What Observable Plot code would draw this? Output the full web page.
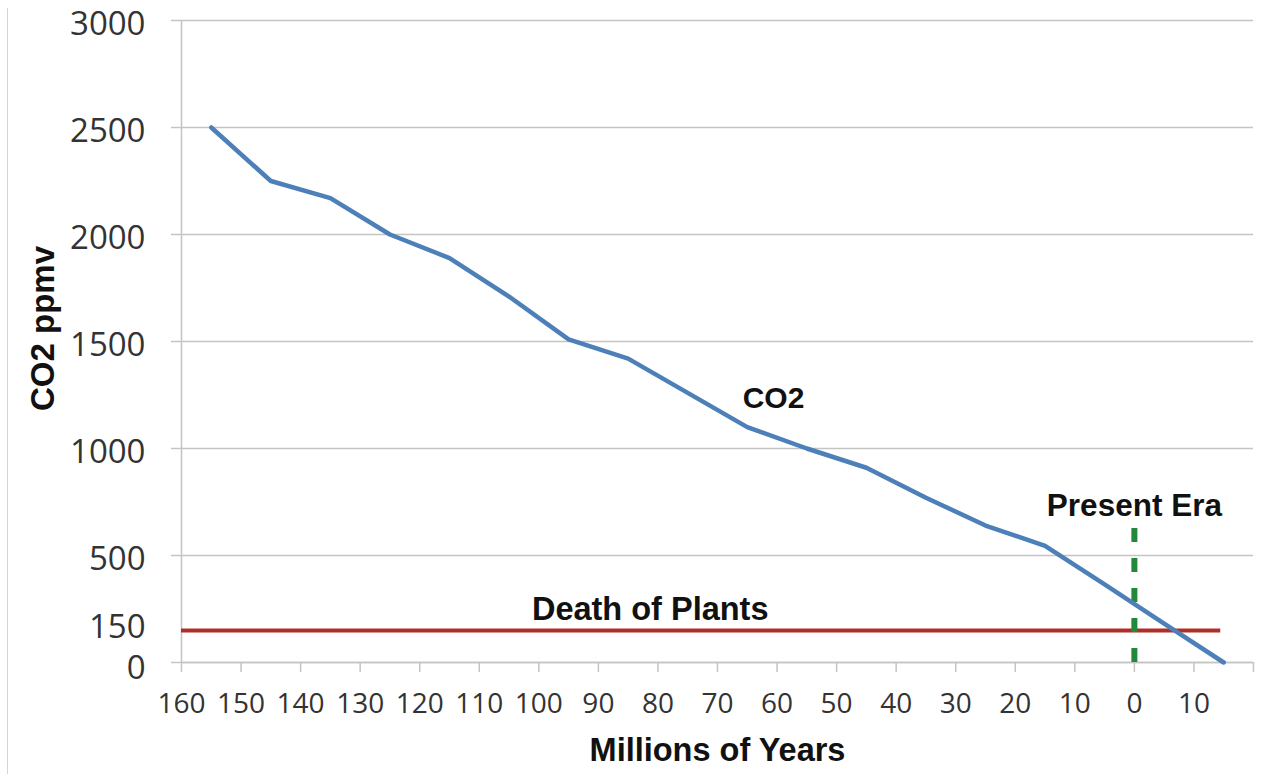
<!DOCTYPE html>
<html>
<head>
<meta charset="utf-8">
<script src="https://cdn.jsdelivr.net/npm/d3@7"></script>
<script src="https://cdn.jsdelivr.net/npm/@observablehq/plot@0.6"></script>
<style>
  html, body { margin: 0; padding: 0; background: #fff; }
  #wrap { position: relative; width: 1261px; height: 774px; overflow: hidden; }
  #border { position: absolute; left: 7px; top: 8px; bottom: 0; width: 0; border-left: 1.5px solid #d4d4d4; }
  #chart { position: absolute; left: 0; top: 0; }
</style>
</head>
<body>
<div id="wrap"><div id="border"></div><div id="chart"></div></div>
<script>
// Millions of years ago (negative = future)
const years = [155, 145, 135, 125, 115, 105, 95, 85, 75, 65, 55, 45, 35, 25, 15, 5, -5, -15];
// CO2 concentration, ppmv
const co2 = [2500, 2250, 2170, 2000, 1890, 1710, 1510, 1420, 1260, 1100, 1000, 910, 770, 640, 545, 365, 182, 0];

const xTicks = [160, 150, 140, 130, 120, 110, 100, 90, 80, 70, 60, 50, 40, 30, 20, 10, 0, -10, -20];
const yLabelTicks = [500, 1000, 1500, 2000, 2500, 3000];
const yGridTicks = [0, 500, 1000, 1500, 2000, 2500, 3000];

const plantDeath = 150;      // ppmv threshold
const plantLineEnd = -14.5;  // end of the threshold line
const presentEra = 0;        // present
const presentTop = 626;      // top of the dashed marker (ppmv)

const co2Label = {text: "CO2", x: 60.6, y: 1234};
const plantsLabel = {text: "Death of Plants", x: 81.3, y: plantDeath};
const presentLabel = {text: "Present Era", x: presentEra, y: presentTop};

const data = years.map((y, i) => ({year: y, co2: co2[i]}));

const tickFont = {fontSize: 33, fontFamily: "Open Sans", fill: "#333"};
const boldFont = {fontSize: 30, fontWeight: "bold", fontFamily: "Liberation Sans", fill: "#111", lineAnchor: "middle"};

const chart = Plot.plot({
  width: 1261,
  height: 774,
  marginLeft: 181,
  marginRight: 8,
  marginTop: 20,
  marginBottom: 112,
  x: {domain: [160, -20]},
  y: {domain: [0, 3000]},
  style: {background: "transparent", overflow: "visible"},
  marks: [
    Plot.gridY(yGridTicks, {stroke: "#c4c4c4", strokeOpacity: 1, strokeWidth: 1.5}),
    Plot.axisY({ticks: yGridTicks, tickSize: 10, tickFormat: () => "", label: null, stroke: "#c4c4c4", strokeWidth: 1.5}),
    Plot.axisY({ticks: yLabelTicks, tickSize: 0, tickPadding: 36, label: null, tickFormat: d => String(d), ...tickFont, dy: 4}),
    Plot.axisY({ticks: [0], tickSize: 0, tickPadding: 36, label: null, tickFormat: d => String(d), ...tickFont, dy: 6}),
    Plot.axisY({ticks: [plantDeath], tickSize: 0, tickPadding: 36, label: null, tickFormat: d => String(d), ...tickFont, dy: -3}),
    Plot.ruleX([160], {stroke: "#c4c4c4", strokeWidth: 1.5}),
    Plot.axisX({ticks: xTicks, tickSize: 10, tickPadding: 21, label: null,
      tickFormat: d => d === -20 ? "" : String(Math.abs(d)),
      fontSize: 28, fontFamily: "Open Sans", fill: "#333", stroke: "#c4c4c4", strokeWidth: 1.5}),
    Plot.ruleY([0], {stroke: "#c4c4c4", strokeWidth: 1.5}),
    Plot.ruleY([plantDeath], {x1: 160, x2: plantLineEnd, stroke: "#b02e26", strokeWidth: 4}),
    Plot.ruleX([presentEra], {y1: 0, y2: presentTop, stroke: "#23883a", strokeWidth: 6, strokeDasharray: "14,16"}),
    Plot.line(data, {x: "year", y: "co2", stroke: "#4d7fb8", strokeWidth: 4.5, strokeLinejoin: "round"}),
    Plot.text([co2Label], {x: "x", y: "y", text: "text", ...boldFont}),
    Plot.text([plantsLabel], {x: "x", y: "y", text: "text", dy: -21, ...boldFont, fontSize: 32.5}),
    Plot.text([presentLabel], {x: "x", y: "y", text: "text", dy: -23, ...boldFont, fontSize: 31.5}),
    Plot.text(["Millions of Years"], {frameAnchor: "bottom", dy: 88, text: d => d, ...boldFont, fontSize: 32.5}),
    Plot.text(["CO2 ppmv"], {frameAnchor: "left", textAnchor: "middle", dx: -138, dy: -13, rotate: -90, text: d => d, ...boldFont, fontSize: 33})
  ]
});
document.getElementById("chart").appendChild(chart);
</script>
</body>
</html>
